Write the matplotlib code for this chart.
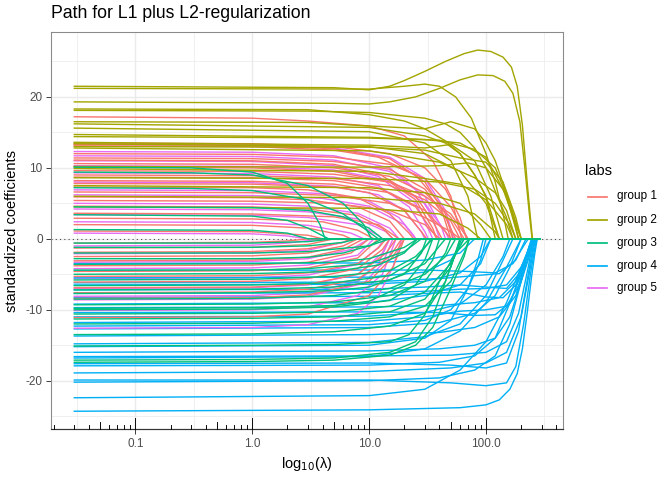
import matplotlib
matplotlib.use("Agg")
import matplotlib.pyplot as plt
from matplotlib.lines import Line2D
import numpy as np

plt.rcParams["font.family"] = ["Liberation Sans", "DejaVu Sans"]

# lambda range of the path
lambda_start = 0.03
lambda_end = 290.0

group_labels = ["group 1", "group 2", "group 3", "group 4", "group 5"]
group_colors = ["#F8766D", "#A3A500", "#00BF7D", "#00B0F6", "#E76BF3"]

# each line: (lambda, coefficient) points, until it hits zero
group_1 = [
    [(0.03, 17.2), (1, 17.0), (3, 16.6), (10, 15.9), (20, 14.5), (35, 11), (50, 6), (62, 0)],
    [(0.03, 13.5), (1, 13.4), (5, 13.0), (15, 12), (30, 10), (45, 7), (60, 3), (68, 0)],
    [(0.03, 13.3), (1, 13.2), (5, 12.7), (15, 11.3), (30, 8), (45, 3.5), (52, 0)],
    [(0.03, 13.1), (1, 13.0), (5, 12.5), (12, 11.5), (25, 9), (40, 5), (50, 0)],
    [(0.03, 12.0), (1, 11.9), (5, 11.5), (15, 10.5), (30, 8.5), (50, 4.5), (65, 1), (70, 0)],
    [(0.03, 11.4), (1, 11.3), (5, 10.9), (15, 9.8), (30, 7), (45, 3), (55, 0)],
    [(0.03, 11.1), (1, 11.0), (5, 10.5), (12, 9.2), (25, 6), (35, 2.5), (42, 0)],
    [(0.03, 10.6), (1, 10.5), (5, 10.0), (15, 8.8), (30, 6.5), (50, 3), (65, 0)],
    [(0.03, 10.1), (1, 10.0), (5, 9.5), (15, 8.0), (25, 5.5), (35, 1.5), (38, 0)],
    [(0.03, 9.6), (1, 9.5), (5, 9.1), (15, 8.0), (30, 6), (50, 3.5), (70, 0)],
    [(0.03, 9.0), (1, 8.9), (5, 8.5), (15, 7.5), (30, 5.5), (50, 2.5), (60, 0)],
    [(0.03, 8.7), (1, 8.6), (5, 8.2), (12, 7.2), (25, 4.5), (35, 1), (38, 0)],
    [(0.03, 8.2), (1, 8.1), (5, 7.7), (15, 6.5), (30, 4), (45, 1), (50, 0)],
    [(0.03, 7.8), (1, 7.7), (5, 7.3), (10, 6.5), (20, 4), (28, 1), (31, 0)],
    [(0.03, 7.3), (1, 7.2), (3, 6.9), (8, 5.8), (15, 3.5), (22, 0.8), (24, 0)],
    [(0.03, 6.6), (1, 6.5), (5, 6.1), (15, 5), (30, 3), (50, 1), (60, 0)],
    [(0.03, 5.9), (1, 5.8), (3, 5.5), (8, 4.5), (15, 2.5), (20, 0)],
    [(0.03, 5.4), (1, 5.3), (5, 5.0), (15, 4.0), (30, 2), (40, 0)],
    [(0.03, 4.6), (1, 4.5), (3, 4.2), (8, 3.3), (13, 1.5), (16, 0)],
    [(0.03, 3.6), (1, 3.5), (5, 3.1), (12, 2), (18, 0)],
    [(0.03, 2.9), (1, 2.8), (4, 2.4), (8, 1.2), (11, 0)],
    [(0.03, 2.0), (1, 1.9), (3, 1.5), (6, 0.5), (7, 0)],
    [(0.03, 1.1), (1, 1.0), (3, 0.5), (4, 0)],
    [(0.03, -0.6), (1, -0.5), (2, -0.3), (3, 0)],
    [(0.03, -1.3), (1, -1.2), (3, -0.8), (5, 0)],
    [(0.03, -1.9), (1, -1.8), (3, -1.4), (6, -0.5), (7, 0)],
    [(0.03, -2.5), (1, -2.4), (3, -2.0), (6, -1.0), (8, 0)],
    [(0.03, -3.1), (1, -3.0), (3, -2.6), (6, -1.5), (9, 0)],
    [(0.03, -3.8), (1, -3.7), (3, -3.3), (7, -2), (10, 0)],
    [(0.03, -4.6), (1, -4.5), (3, -4.1), (8, -2.7), (12, 0)],
    [(0.03, -5.3), (1, -5.2), (3, -4.8), (8, -3.5), (12, -1.3), (14, 0)],
    [(0.03, -6.1), (1, -6.0), (3, -5.6), (8, -4.2), (13, -1.5), (15, 0)],
    [(0.03, -6.9), (1, -6.8), (3, -6.4), (8, -5), (14, -2), (17, 0)],
    [(0.03, -7.6), (1, -7.5), (3, -7.1), (8, -5.7), (15, -2.5), (19, 0)],
    [(0.03, -8.4), (1, -8.3), (3, -7.9), (10, -6), (16, -2.5), (20, 0)],
    [(0.03, -11.1), (1, -11.0), (3, -10.6), (10, -8), (16, -4), (20, 0)],
]

group_2 = [
    [(0.03, 21.5), (5, 21.3), (10, 21.0), (15, 21.5), (20, 22.3), (30, 23.6), (45, 25.0), (65, 26.1),
     (85, 26.6), (110, 26.4), (140, 25.6), (165, 24.2), (185, 21.5), (205, 16), (225, 8), (240, 3), (250, 0)],
    [(0.03, 21.2), (10, 21.1), (20, 21.5), (30, 21.8), (40, 21.5), (55, 20), (75, 17), (100, 12),
     (120, 8), (140, 3.5), (155, 0)],
    [(0.03, 19.3), (5, 19.1), (10, 19.0), (15, 19.3), (25, 20.0), (40, 21.2), (60, 22.4), (85, 23.1),
     (115, 23.0), (145, 22.2), (170, 20.5), (195, 16.5), (215, 10), (235, 3.5), (248, 0)],
    [(0.03, 18.3), (3, 18.2), (10, 17.5), (20, 16.6), (30, 15.5), (45, 13.8), (60, 12), (80, 9), (100, 6), (130, 0)],
    [(0.03, 18.1), (3, 18.0), (10, 17.8), (30, 17.0), (45, 16.2), (60, 15), (80, 12.8), (100, 10), (125, 6), (150, 3), (170, 0)],
    [(0.03, 16.5), (3, 16.4), (10, 15.9), (30, 15.5), (50, 16.5), (80, 15.5), (100, 13.5), (120, 11), (160, 5), (190, 0)],
    [(0.03, 16.2), (10, 15.7), (30, 14.5), (45, 13.5), (60, 12), (80, 9), (100, 6), (120, 0)],
    [(0.03, 15.6), (10, 15.1), (30, 13.5), (50, 11), (70, 6), (85, 0)],
    [(0.03, 14.7), (10, 14.3), (30, 14.0), (60, 13.5), (100, 11.5), (150, 6), (190, 0)],
    [(0.03, 14.4), (10, 14.2), (40, 13.9), (80, 12.6), (120, 10), (160, 5), (200, 0)],
    [(0.03, 13.6), (10, 13.2), (30, 12.8), (50, 13.3), (80, 11), (110, 6), (140, 0)],
    [(0.03, 13.4), (10, 13.0), (30, 12.0), (60, 9.5), (100, 5), (130, 0)],
    [(0.03, 13.0), (10, 12.9), (30, 12.5), (60, 11.4), (100, 10.8), (140, 8), (180, 3), (200, 0)],
    [(0.03, 12.8), (10, 12.4), (40, 10.8), (80, 8.6), (120, 6.5), (150, 4), (180, 0)],
    [(0.03, 10.2), (10, 10.1), (40, 10.3), (70, 10.7), (100, 10), (140, 7), (180, 2), (200, 0)],
    [(0.03, 9.9), (10, 9.5), (30, 8.5), (60, 7.7), (100, 5.5), (150, 2), (170, 0)],
    [(0.03, 8.6), (10, 8.5), (40, 8.0), (80, 7), (120, 5), (160, 2), (180, 0)],
    [(0.03, 7.5), (10, 7.2), (30, 6.5), (60, 5), (90, 2), (110, 0)],
    [(0.03, 6.0), (10, 5.8), (40, 5.0), (80, 3.5), (120, 1), (130, 0)],
    [(0.03, 4.5), (10, 4.3), (40, 3.5), (70, 1.5), (90, 0)],
]

group_3 = [
    [(0.03, 10.1), (0.3, 10.0), (1, 9.4), (2, 7.8), (3, 5), (3.8, 2), (4.2, 0)],
    [(0.03, 9.4), (0.3, 9.3), (1, 9.0), (3, 7.5), (6, 5), (9, 2), (10.5, 0)],
    [(0.03, 7.2), (0.3, 7.1), (1, 6.8), (3, 5.5), (6, 3.5), (9, 1.5), (12, 0)],
    [(0.03, 4.5), (1, 4.4), (3, 4.0), (6, 3.1), (10, 1.5), (13, 0)],
    [(0.03, 3.4), (1, 3.2), (2, 2.6), (3, 1.5), (4.5, 0)],
    [(0.03, 1.3), (1, 1.2), (2, 0.8), (3, 0)],
    [(0.03, -0.6), (1, -0.6), (3, -0.4), (5, 0)],
    [(0.03, -1.2), (1, -1.2), (3, -1.0), (6, -0.5), (8, 0)],
    [(0.03, -2.0), (1, -2.0), (3, -1.8), (10, -1.0), (15, 0)],
    [(0.03, -2.8), (1, -2.8), (3, -2.6), (6, -2.0), (10, -1), (13, 0)],
    [(0.03, -3.6), (1, -3.5), (5, -3.3), (10, -2.8), (20, -1.2), (26, 0)],
    [(0.03, -4.4), (1, -4.4), (3, -4.2), (10, -3.5), (20, -1.8), (28, 0)],
    [(0.03, -5.0), (1, -4.9), (5, -4.6), (12, -3.7), (20, -2), (26, 0)],
    [(0.03, -5.8), (1, -5.7), (5, -5.3), (15, -4.5), (25, -2.5), (35, 0)],
    [(0.03, -6.6), (1, -6.5), (5, -6.2), (15, -5.2), (25, -3), (34, 0)],
    [(0.03, -7.2), (1, -7.1), (5, -6.8), (15, -5.8), (30, -3.5), (45, 0)],
    [(0.03, -7.7), (1, -7.6), (5, -7.3), (10, -6.8), (20, -5), (28, -2), (31, 0)],
    [(0.03, -8.5), (1, -8.4), (5, -8.0), (15, -7), (30, -5), (45, -2.5), (55, 0)],
    [(0.03, -9.3), (1, -9.2), (5, -8.9), (15, -8), (30, -6), (45, -2), (50, 0)],
    [(0.03, -9.8), (1, -9.7), (5, -9.4), (10, -8.8), (20, -6.5), (30, -3), (35, 0)],
    [(0.03, -10.0), (1, -9.9), (5, -9.6), (15, -8.7), (25, -6.5), (35, -3), (40, 0)],
    [(0.03, -10.6), (1, -10.5), (5, -10.3), (15, -9.5), (30, -7.5), (50, -3.5), (65, 0)],
    [(0.03, -11.3), (1, -11.2), (5, -11.0), (15, -10.3), (30, -8.5), (50, -4), (60, 0)],
    [(0.03, -12.0), (1, -11.9), (5, -11.6), (15, -11), (30, -9.5), (50, -6), (65, -2), (72, 0)],
    [(0.03, -13.5), (1, -13.4), (5, -13.1), (15, -12.3), (30, -10.5), (45, -6), (55, -2), (60, 0)],
    [(0.03, -15.1), (1, -15.0), (5, -14.9), (15, -14.5), (22, -13.5), (30, -10.7), (40, -6), (55, -2), (72, 0)],
    [(0.03, -17.1), (1, -17.0), (5, -16.8), (15, -16), (25, -14.5), (35, -11), (45, -6), (55, -2), (62, 0)],
    [(0.03, -17.4), (1, -17.3), (5, -17.1), (15, -16.4), (25, -15), (35, -12.5), (50, -7), (65, -2.5), (72, 0)],
]

group_4 = [
    [(0.03, -24.3), (10, -24.1), (60, -23.8), (100, -23.4), (130, -22.7), (160, -21.2), (185, -19),
     (205, -15.5), (225, -10.5), (245, -5.5), (262, -2), (275, 0)],
    [(0.03, -22.4), (10, -22.1), (30, -21.2), (60, -18.5), (100, -14.5), (150, -9), (200, -4), (250, -1), (275, 0)],
    [(0.03, -20.2), (10, -20.0), (40, -19.6), (80, -18.5), (120, -16.5), (160, -12), (200, -6), (230, -1.5), (245, 0)],
    [(0.03, -19.9), (10, -19.9), (50, -20.3), (100, -20.7), (150, -20.3), (180, -18), (210, -12), (240, -5), (270, 0)],
    [(0.03, -18.9), (10, -18.7), (50, -18.2), (100, -17.5), (150, -16), (200, -11), (240, -4), (265, 0)],
    [(0.03, -17.9), (10, -17.8), (40, -17.4), (80, -16.5), (120, -14), (170, -8), (220, -2.5), (250, 0)],
    [(0.03, -17.6), (10, -17.5), (50, -17.8), (100, -18.2), (150, -17.5), (190, -13), (230, -5), (260, 0)],
    [(0.03, -16.8), (10, -16.6), (30, -15.5), (60, -13), (100, -9), (150, -4), (200, 0)],
    [(0.03, -16.6), (10, -16.5), (50, -16.4), (100, -16.0), (150, -14.5), (190, -10.5), (230, -4), (255, 0)],
    [(0.03, -16.0), (10, -15.8), (40, -15.5), (80, -15.0), (120, -14), (160, -11), (200, -6), (240, -1.5), (260, 0)],
    [(0.03, -15.2), (10, -15.0), (30, -14.0), (50, -11.5), (70, -7), (85, -3), (95, 0)],
    [(0.03, -14.8), (10, -14.6), (30, -13.8), (60, -12), (100, -8), (140, -3), (170, 0)],
    [(0.03, -13.7), (10, -13.5), (40, -13.2), (80, -12.5), (130, -11), (180, -8), (220, -3), (250, 0)],
    [(0.03, -12.7), (10, -12.5), (40, -11.8), (80, -10.5), (120, -8), (160, -4), (200, 0)],
    [(0.03, -12.3), (10, -12.1), (30, -11.5), (50, -10), (70, -7), (90, -3), (100, 0)],
    [(0.03, -11.8), (10, -11.6), (30, -11.0), (60, -10.2), (100, -10), (150, -9.5), (200, -6), (240, -2), (265, 0)],
    [(0.03, -11.0), (10, -10.9), (30, -10.4), (60, -9.2), (100, -6.5), (140, -2.5), (160, 0)],
    [(0.03, -10.4), (10, -10.3), (40, -10.4), (80, -10.8), (120, -10.7), (160, -9), (200, -5), (235, -1), (250, 0)],
    [(0.03, -9.7), (10, -9.6), (40, -9.4), (80, -9.0), (130, -8.3), (180, -6), (230, -2), (260, 0)],
    [(0.03, -9.2), (10, -9.0), (30, -8.0), (60, -6.5), (90, -3.5), (110, 0)],
    [(0.03, -8.3), (10, -8.1), (30, -7.7), (60, -7.5), (100, -8.2), (140, -8.3), (180, -6.5), (220, -2.5), (250, 0)],
    [(0.03, -7.7), (10, -7.6), (30, -7.4), (60, -7.1), (100, -7.0), (150, -6.5), (200, -4), (240, -1), (260, 0)],
    [(0.03, -7.2), (10, -7.1), (30, -6.8), (60, -6.5), (100, -6.8), (150, -7.0), (190, -5), (230, -1.5), (250, 0)],
    [(0.03, -6.5), (10, -6.4), (30, -6.0), (60, -4.8), (90, -2.5), (110, 0)],
    [(0.03, -6.2), (10, -6.1), (40, -5.6), (80, -5.2), (130, -4.9), (180, -3), (220, 0)],
    [(0.03, -5.5), (10, -5.4), (30, -4.7), (50, -3), (65, 0)],
    [(0.03, -4.5), (10, -4.4), (30, -4.4), (70, -4.6), (120, -4.8), (170, -3.5), (210, -1), (230, 0)],
    [(0.03, -3.5), (10, -3.4), (30, -3.0), (60, -2), (80, 0)],
]

group_5 = [
    [(0.03, 13.3), (1, 13.2), (5, 12.8), (15, 11.5), (30, 8.5), (45, 4), (53, 0)],
    [(0.03, 12.3), (1, 12.2), (5, 11.7), (15, 10), (25, 7), (35, 3), (40, 0)],
    [(0.03, 11.7), (1, 11.6), (5, 11.1), (15, 9.5), (30, 6), (42, 1.5), (45, 0)],
    [(0.03, 11.0), (1, 10.9), (5, 10.3), (12, 8.8), (25, 5), (33, 1), (35, 0)],
    [(0.03, 10.3), (1, 10.2), (5, 9.7), (15, 8.2), (30, 5), (45, 1), (48, 0)],
    [(0.03, 9.3), (1, 9.2), (5, 8.7), (12, 7.5), (22, 4.5), (30, 1), (32, 0)],
    [(0.03, 8.0), (1, 7.9), (5, 7.4), (12, 6.2), (20, 4), (28, 1), (30, 0)],
    [(0.03, 6.9), (1, 6.8), (5, 6.3), (10, 5.3), (18, 3), (24, 0.5), (25, 0)],
    [(0.03, 6.2), (1, 6.1), (4, 5.7), (10, 4.6), (20, 2), (25, 0)],
    [(0.03, 5.0), (1, 4.9), (3, 4.6), (8, 3.6), (15, 1.5), (18, 0)],
    [(0.03, 4.2), (1, 4.1), (3, 3.8), (8, 2.8), (14, 1), (16, 0)],
    [(0.03, 3.4), (1, 3.3), (3, 3.0), (8, 2), (12, 0.5), (13, 0)],
    [(0.03, 2.4), (1, 2.3), (3, 1.9), (7, 0.8), (9, 0)],
    [(0.03, 0.8), (1, 0.7), (2, 0.4), (3, 0)],
    [(0.03, -1.0), (1, -0.9), (2, -0.6), (4, 0)],
    [(0.03, -2.1), (1, -2.0), (3, -1.6), (6, -0.5), (7, 0)],
    [(0.03, -3.3), (1, -3.2), (3, -2.8), (7, -1.5), (10, 0)],
    [(0.03, -4.2), (1, -4.1), (3, -3.7), (8, -2.3), (11, 0)],
    [(0.03, -5.6), (1, -5.5), (3, -5.1), (8, -3.6), (12, -1.2), (13.5, 0)],
    [(0.03, -7.0), (1, -6.9), (3, -6.5), (8, -5), (13, -2), (15, 0)],
    [(0.03, -8.1), (1, -8.0), (3, -7.6), (8, -6), (12, -3.5), (15, 0)],
    [(0.03, -8.6), (1, -8.5), (3, -8.1), (9, -6.3), (13, -3.5), (16, 0)],
    [(0.03, -10.1), (1, -10.0), (3, -9.6), (8, -8), (13, -5), (17, 0)],
    [(0.03, -12.6), (1, -12.5), (3, -12.1), (8, -10.5), (12, -8), (16, -4), (19, 0)],
]

groups = [group_1, group_2, group_3, group_4, group_5]

fig = plt.figure(figsize=(7, 5), dpi=96)
ax = fig.add_axes([51 / 672, 1 - 429.3 / 480, (563.3 - 51) / 672, (429.3 - 32) / 480])

ax.axhline(0, color="#444444", lw=0.8, linestyle=(0, (1, 3)), zorder=1)

n_max = max(len(g) for g in groups)
for i in range(n_max):
    for gi, g in enumerate(groups):
        if i >= len(g):
            continue
        pts = g[i] + [(lambda_end, 0.0)]
        xs = [p[0] for p in pts]
        ys = [p[1] for p in pts]
        ax.plot(xs, ys, color=group_colors[gi], lw=1.05,
                zorder=3 if gi == 2 else 2, solid_joinstyle="round")

ax.set_xscale("log")
lo, hi = np.log10(lambda_start), np.log10(lambda_end)
pad = 0.05 * (hi - lo)
ax.set_xlim(10 ** (lo - pad), 10 ** (hi + pad))
all_y = [p[1] for g in groups for line in g for p in line]
ymin, ymax = min(all_y), max(all_y)
ypad = 0.05 * (ymax - ymin)
ax.set_ylim(ymin - ypad, ymax + ypad)

ax.set_xticks([0.1, 1, 10, 100])
ax.set_xticklabels(["0.1", "1.0", "10.0", "100.0"])
ax.set_xticks([10 ** -1.5, 10 ** -0.5, 10 ** 0.5, 10 ** 1.5, 10 ** 2.5], minor=True)
ax.set_yticks([-20, -10, 0, 10, 20])
ax.set_yticklabels(["-20", "-10", "0", "10", "20"])
ax.set_yticks([-25, -15, -5, 5, 15, 25], minor=True)
ax.tick_params(which="minor", length=0)
ax.tick_params(which="major", length=3.7, width=0.7, color="#333333",
               labelcolor="#4D4D4D", labelsize=8.8, pad=2.5)

ax.grid(which="major", color="#EBEBEB", lw=1.07)
ax.grid(which="minor", color="#EBEBEB", lw=0.55)
ax.set_axisbelow(True)

for side in ["left", "top", "right"]:
    ax.spines[side].set_color("#8a8a8a")
    ax.spines[side].set_linewidth(0.8)
ax.spines["bottom"].set_color("#333333")
ax.spines["bottom"].set_linewidth(0.9)

# log ticks along the bottom of the panel
x0, x1 = ax.get_xlim()
for n in range(-2, 3):
    for k in range(1, 10):
        v = k * 10 ** n
        if x0 <= v <= x1:
            h = 0.0285 if k == 1 else (0.019 if k == 5 else 0.0096)
            ax.plot([v, v], [0, h], transform=ax.get_xaxis_transform(),
                    color="black", lw=0.7, clip_on=False, zorder=6)

fig.text(51 / 672, 1 - 14 / 480, "Path for L1 plus L2-regularization",
         fontsize=13.2, va="center", ha="left")
fig.text(12 / 672, 1 - 230.6 / 480, "standardized coefficients",
         fontsize=11, rotation=90, va="center", ha="center")
fig.text(307 / 672, 1 - 464 / 480, r"log$_{10}$(λ)", fontsize=11,
         va="center", ha="center")

# legend
fig.text(585 / 672, 1 - 171 / 480, "labs", fontsize=11, va="center", ha="left")
row_y = [196.5, 219.5, 242.5, 265.5, 288]
for lab, col, yy in zip(group_labels, group_colors, row_y):
    fy = 1 - yy / 480
    fig.add_artist(Line2D([588 / 672, 607 / 672], [fy, fy], color=col, lw=1.3,
                          transform=fig.transFigure))
    fig.text(617 / 672, fy, lab, fontsize=8.8, va="center", ha="left")

fig.savefig("out.png", dpi=96)
